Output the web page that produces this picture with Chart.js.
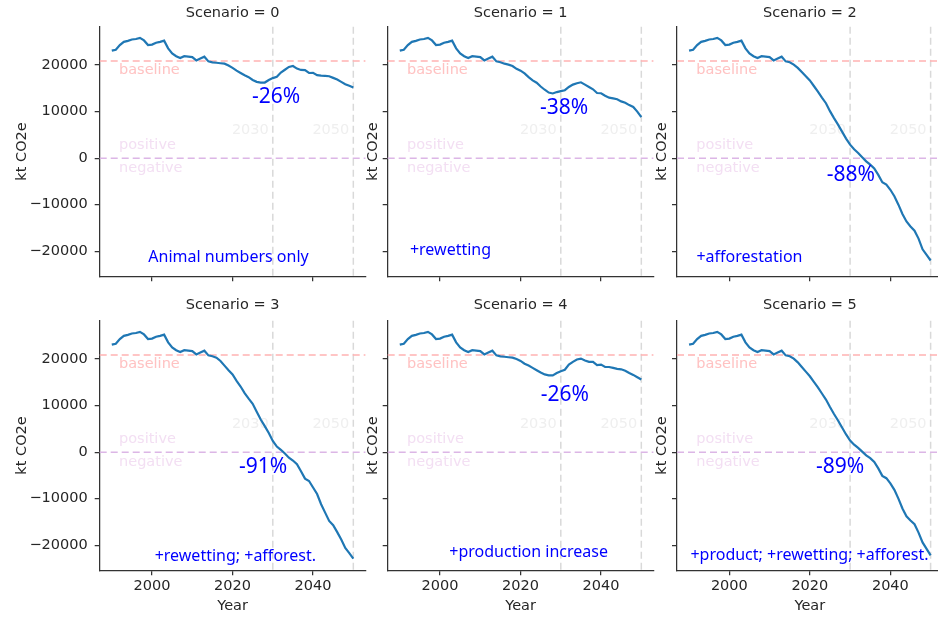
<!DOCTYPE html>
<html>
<head>
<meta charset="utf-8">
<title>Scenarios</title>
<script src="https://cdn.jsdelivr.net/npm/chart.js@4.4.1/dist/chart.umd.min.js"></script>
<style>
  body { margin: 0; background: #fff; overflow: hidden; width: 938px; height: 617px; position: relative; }
  canvas { position: absolute; left: 0; top: 0; }
</style>
</head>
<body>
<script>
// years on the x axis
const years = Array.from({length: 61}, (_, i) => 1990 + i);

// inventory 1990-2015, same for every scenario
const history = [23100, 23300, 24300, 25000, 25200, 25500, 25600, 25850, 25300, 24300,
                 24400, 24800, 25000, 25250, 23600, 22500, 21900, 21500, 21900, 21800,
                 21700, 21000, 21400, 21800, 20800, 20600];

// projections 2016-2050
const scen0 = [20500, 20400, 20300, 19900, 19400, 18800, 18300, 17800, 17400, 16800,
               16400, 16250, 16250, 16800, 17200, 17500, 18400, 19000, 19600, 19800,
               19250, 18950, 18900, 18300, 18350, 17850, 17750, 17700, 17600, 17250,
               16900, 16400, 15900, 15550, 15200];
const scen1 = [20300, 20100, 19800, 19200, 18800, 18200, 17400, 16700, 16200, 15400,
               14700, 14100, 13900, 14200, 14400, 14600, 15300, 15800, 16100, 16300,
               15800, 15300, 14800, 14000, 13950, 13400, 13000, 12850, 12650, 12200,
               11900, 11400, 11000, 10000, 8800];
const scen2 = [20100, 19400, 18500, 17600, 16700, 15500, 14300, 13000, 11800, 10100,
               8600, 7200, 5700, 4200, 2900, 1900, 1100, 200, -700, -1400,
               -2200, -3600, -5200, -5700, -6800, -8200, -10000, -12000, -13600, -14700,
               -15600, -17300, -19600, -20800, -22000];
const scen3 = [20300, 19600, 18600, 17600, 16700, 15300, 14100, 12700, 11500, 10400,
               8700, 7000, 5600, 4100, 2400, 1200, 500, -300, -1200, -1800,
               -2600, -4100, -5700, -6200, -7600, -9000, -11200, -13000, -14800, -15700,
               -17200, -18800, -20600, -21700, -22900];
const scen4 = [20500, 20400, 20300, 20000, 19600, 19000, 18600, 18100, 17600, 17100,
               16700, 16500, 16500, 17000, 17400, 17700, 18800, 19400, 19900, 20100,
               19700, 19400, 19400, 18700, 18800, 18300, 18300, 18100, 17900, 17800,
               17500, 17000, 16600, 16100, 15600];
const scen5 = [20100, 19300, 18300, 17300, 16300, 15100, 13900, 12600, 11300, 9700,
               8200, 6800, 5300, 3800, 2500, 1600, 900, 100, -700, -1300,
               -2100, -3500, -5100, -5600, -6700, -8100, -10000, -12100, -13800, -14700,
               -15500, -17300, -19400, -20800, -22200];

const titles = ['Scenario = 0', 'Scenario = 1', 'Scenario = 2', 'Scenario = 3', 'Scenario = 4', 'Scenario = 5'];
const pctLabels = ['-26%', '-38%', '-88%', '-91%', '-26%', '-89%'];
const measureLabels = ['Animal numbers only', '+rewetting', '+afforestation',
                       '+rewetting; +afforest.', '+production increase', '+product; +rewetting; +afforest.'];
const xTicks = [2000, 2020, 2040];
const yTicks = [-20000, -10000, 0, 10000, 20000];
const baselineValue = 20900;
const markerYears = [2030, 2050];

// where the blue notes sit, in data units (year, kt)
const pctAt = [[2030.8, 13100], [2030.8, 10750], [2030.2, -3650], [2027.6, -3150], [2031, 12250], [2027.5, -3150]];
const measureAt = [[2019, -21440], [2002.6, -19940], [2005, -21440], [2020.7, -22500], [2022, -21650], [2019.9, -22300]];

// page layout of the 3x2 grid
const colLeft = [99.7, 387.7, 677];
const rowTop = [26.7, 320.7];
const plotW = 265.7, plotH = 249.6;
const CW = 950, CH = 617;
const dejavu = '"DejaVu Sans", sans-serif';
const ink = '#262626';

function dashLine(ctx, x1, y1, x2, y2, color) {
    ctx.strokeStyle = color;
    ctx.beginPath();
    ctx.moveTo(x1, y1);
    ctx.lineTo(x2, y2);
    ctx.stroke();
}

const panelDecor = {
    id: 'panelDecor',
    beforeDatasetsDraw(chart, args, o) {
        const ctx = chart.ctx, a = chart.chartArea;
        const x = chart.scales.x, y = chart.scales.y;
        ctx.save();
        ctx.lineWidth = 1.5;
        ctx.setLineDash([7, 4]);
        markerYears.forEach(yr => {
            const px = x.getPixelForValue(yr);
            dashLine(ctx, px, a.top, px, a.bottom, '#d9d9d9');
        });
        dashLine(ctx, a.left, y.getPixelForValue(baselineValue), a.right, y.getPixelForValue(baselineValue), '#ffb3b3');
        dashLine(ctx, a.left, y.getPixelForValue(0), a.right, y.getPixelForValue(0), '#dcb6e6');
        ctx.setLineDash([]);

        ctx.font = '14.5px ' + dejavu;
        ctx.textBaseline = 'middle';
        ctx.textAlign = 'left';
        ctx.fillStyle = '#ffc2c2';
        ctx.fillText('baseline', x.getPixelForValue(1991.8), y.getPixelForValue(19000));
        ctx.fillStyle = '#f3dff3';
        ctx.fillText('positive', x.getPixelForValue(1991.8), y.getPixelForValue(2700));
        ctx.fillText('negative', x.getPixelForValue(1991.8), y.getPixelForValue(-2100));
        ctx.textAlign = 'right';
        ctx.fillStyle = '#efefef';
        markerYears.forEach(yr => {
            ctx.fillText(String(yr), x.getPixelForValue(yr - 1), y.getPixelForValue(6000));
        });
        ctx.restore();
    },
    afterDraw(chart, args, o) {
        const ctx = chart.ctx, a = chart.chartArea;
        const x = chart.scales.x, y = chart.scales.y;
        const i = o.idx;
        ctx.save();
        ctx.fillStyle = '#0000ff';
        ctx.textAlign = 'center';
        ctx.textBaseline = 'middle';
        ctx.font = '21px "Noto Sans", sans-serif';
        ctx.fillText(pctLabels[i], x.getPixelForValue(pctAt[i][0]), y.getPixelForValue(pctAt[i][1]));
        ctx.font = '16px "Noto Sans", sans-serif';
        ctx.fillText(measureLabels[i], x.getPixelForValue(measureAt[i][0]), y.getPixelForValue(measureAt[i][1]));

        ctx.fillStyle = ink;
        ctx.font = '14.5px ' + dejavu;
        const cx = (a.left + a.right) / 2;
        ctx.fillText(titles[i], cx, a.top - (o.row === 0 ? 13 : 15));
        if (o.row === 1) ctx.fillText('Year', cx, a.bottom + 36);
        ctx.translate(a.left - (o.col === 0 ? 77.5 : 14.5), (a.top + a.bottom) / 2);
        ctx.rotate(-Math.PI / 2);
        ctx.fillText('kt CO2e', 0, 0);
        ctx.restore();
    }
};

const allScen = [scen0, scen1, scen2, scen3, scen4, scen5];

allScen.forEach((proj, i) => {
    const vals = history.concat(proj);
    const col = i % 3, row = Math.floor(i / 3);
    const L = colLeft[col], T = rowTop[row];
    const xH = row === 1 ? 40 : 10;
    const yW = col === 0 ? 70 : 10;   // label area must be wide enough, Chart.js clips labels to it
    const cv = document.createElement('canvas');
    cv.width = CW;
    cv.height = CH;
    document.body.appendChild(cv);

    new Chart(cv, {
        type: 'line',
        data: {
            datasets: [{
                data: years.map((yr, k) => ({x: yr, y: vals[k]})),
                borderColor: '#1f77b4',
                borderWidth: 2.2,
                pointRadius: 0,
                tension: 0
            }]
        },
        options: {
            responsive: false,
            animation: false,
            events: [],
            layout: {padding: {left: L - yW, top: T, right: CW - L - plotW, bottom: CH - T - plotH - xH}},
            plugins: {
                legend: {display: false},
                tooltip: {enabled: false},
                panelDecor: {idx: i, col: col, row: row}
            },
            scales: {
                x: {
                    type: 'linear', min: 1987, max: 2053,
                    afterFit: s => { s.height = xH; },
                    afterBuildTicks: s => { s.ticks = xTicks.map(v => ({value: v})); },
                    ticks: {display: row === 1, color: ink, font: {family: dejavu, size: 14.5}, padding: 2,
                            autoSkip: false, maxRotation: 0, callback: v => String(v)},
                    grid: {drawOnChartArea: false, drawTicks: true, tickLength: 5, color: '#333', lineWidth: 1.25},
                    border: {display: true, color: '#333', width: 1.25}
                },
                y: {
                    min: -25400, max: 28250,
                    afterFit: s => { s.width = yW; },
                    afterBuildTicks: s => { s.ticks = yTicks.map(v => ({value: v})); },
                    ticks: {display: col === 0, color: ink, font: {family: dejavu, size: 14.5}, padding: 7,
                            autoSkip: false, callback: v => String(v).replace('-', '\u2212')},
                    grid: {drawOnChartArea: false, drawTicks: true, tickLength: 5, color: '#333', lineWidth: 1.25},
                    border: {display: true, color: '#333', width: 1.25}
                }
            }
        },
        plugins: [panelDecor]
    });
});
</script>
</body>
</html>
